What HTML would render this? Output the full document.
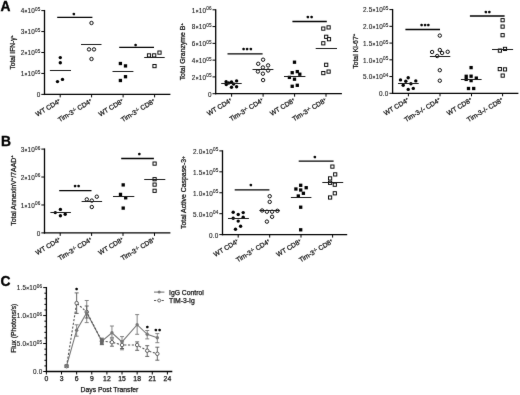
<!DOCTYPE html>
<html><head><meta charset="utf-8"><title>Figure</title>
<style>
html,body{margin:0;padding:0;background:#fff;}
body{width:520px;height:395px;overflow:hidden;}
svg{display:block;}
text.tl{stroke:#1a1a1a;stroke-width:0.12px;fill:#1a1a1a;letter-spacing:0.2px;}
text{font-family:"Liberation Sans",Arial,"DejaVu Sans",sans-serif;fill:#111;stroke:#111;stroke-width:0.25px;}
</style></head><body>
<svg width="520" height="395" viewBox="0 0 520 395">
<defs><filter id="bl" x="0" y="0" width="520" height="395" filterUnits="userSpaceOnUse" color-interpolation-filters="sRGB"><feConvolveMatrix order="3" kernelMatrix="0.01 0.05 0.01 0.05 0.76 0.05 0.01 0.05 0.01" divisor="1" edgeMode="duplicate"/></filter></defs>
<g filter="url(#bl)">
<rect width="520" height="395" fill="#fff"/>
<text x="0.5" y="11.0" font-size="13.8" font-weight="bold" style="fill:#000;stroke:#000;stroke-width:0.35px">A</text>
<text x="1.0" y="145.8" font-size="13.8" font-weight="bold" style="fill:#000;stroke:#000;stroke-width:0.35px">B</text>
<text x="0.6" y="286.4" font-size="13.8" font-weight="bold" style="fill:#000;stroke:#000;stroke-width:0.35px">C</text>
<line x1="44.5" y1="9.95" x2="44.5" y2="95.05" stroke="#000" stroke-width="1.3"/>
<line x1="41.3" y1="94.4" x2="44.5" y2="94.4" stroke="#000" stroke-width="1"/>
<text x="40.5" y="97.3" font-size="6.4" text-anchor="end" class="tl">0</text>
<line x1="41.3" y1="73.45" x2="44.5" y2="73.45" stroke="#000" stroke-width="1"/>
<text x="40.5" y="76.3" font-size="6.4" text-anchor="end" class="tl">1<tspan font-size="4.8" font-weight="bold">×</tspan>10<tspan font-size="4.61" dy="-2.4">05</tspan></text>
<line x1="41.3" y1="52.5" x2="44.5" y2="52.5" stroke="#000" stroke-width="1"/>
<text x="40.5" y="55.35" font-size="6.4" text-anchor="end" class="tl">2<tspan font-size="4.8" font-weight="bold">×</tspan>10<tspan font-size="4.61" dy="-2.4">05</tspan></text>
<line x1="41.3" y1="31.55" x2="44.5" y2="31.55" stroke="#000" stroke-width="1"/>
<text x="40.5" y="34.4" font-size="6.4" text-anchor="end" class="tl">3<tspan font-size="4.8" font-weight="bold">×</tspan>10<tspan font-size="4.61" dy="-2.4">05</tspan></text>
<line x1="41.3" y1="10.6" x2="44.5" y2="10.6" stroke="#000" stroke-width="1"/>
<text x="40.5" y="13.45" font-size="6.4" text-anchor="end" class="tl">4<tspan font-size="4.8" font-weight="bold">×</tspan>10<tspan font-size="4.61" dy="-2.4">05</tspan></text>
<line x1="43.85" y1="94.4" x2="170.4" y2="94.4" stroke="#000" stroke-width="1.3"/>
<line x1="60.2" y1="94.4" x2="60.2" y2="97.4" stroke="#000" stroke-width="1"/>
<line x1="91.6" y1="94.4" x2="91.6" y2="97.4" stroke="#000" stroke-width="1"/>
<line x1="123.1" y1="94.4" x2="123.1" y2="97.4" stroke="#000" stroke-width="1"/>
<line x1="154.6" y1="94.4" x2="154.6" y2="97.4" stroke="#000" stroke-width="1"/>
<text transform="translate(61.2 102.4) rotate(-31)" font-size="6.7" text-anchor="end">WT CD4<tspan font-size="4.15" dy="-2">+</tspan><tspan dy="2">​</tspan></text>
<text transform="translate(92.6 102.4) rotate(-31)" font-size="6.7" text-anchor="end">Tim-3<tspan font-size="4.15" dy="-2">-/-</tspan><tspan dy="2">​</tspan> CD4<tspan font-size="4.15" dy="-2">+</tspan><tspan dy="2">​</tspan></text>
<text transform="translate(124.1 102.4) rotate(-31)" font-size="6.7" text-anchor="end">WT CD8<tspan font-size="4.15" dy="-2">+</tspan><tspan dy="2">​</tspan></text>
<text transform="translate(155.6 102.4) rotate(-31)" font-size="6.7" text-anchor="end">Tim-3<tspan font-size="4.15" dy="-2">-/-</tspan><tspan dy="2">​</tspan> CD8<tspan font-size="4.15" dy="-2">+</tspan><tspan dy="2">​</tspan></text>
<text transform="translate(15.2 52.3) rotate(-90)" font-size="6.6" text-anchor="middle">Total IFN-γ<tspan font-size="4.09" dy="-2.6">+</tspan><tspan dy="2.6">​</tspan></text>
<line x1="57.2" y1="17.3" x2="92.4" y2="17.3" stroke="#000" stroke-width="1.3"/>
<text x="73.8" y="17.35" font-size="5.6" text-anchor="middle" font-weight="bold" style="fill:#000;stroke:#000;stroke-width:0.6px;stroke-linejoin:round">*</text>
<line x1="119.2" y1="47.3" x2="154" y2="47.3" stroke="#000" stroke-width="1.3"/>
<text x="135.6" y="47.55" font-size="5.6" text-anchor="middle" font-weight="bold" style="fill:#000;stroke:#000;stroke-width:0.6px;stroke-linejoin:round">*</text>
<circle cx="60.3" cy="57.6" r="1.7" fill="#000"/>
<circle cx="60.3" cy="62.7" r="1.7" fill="#000"/>
<circle cx="57.5" cy="81.6" r="1.7" fill="#000"/>
<circle cx="62.5" cy="79.4" r="1.7" fill="#000"/>
<circle cx="91.5" cy="23" r="1.7" fill="#fff" stroke="#000" stroke-width="0.95"/>
<circle cx="89" cy="49.4" r="1.7" fill="#fff" stroke="#000" stroke-width="0.95"/>
<circle cx="94" cy="49.4" r="1.7" fill="#fff" stroke="#000" stroke-width="0.95"/>
<circle cx="91.5" cy="59" r="1.7" fill="#fff" stroke="#000" stroke-width="0.95"/>
<rect x="118.75" y="61.85" width="3.3" height="3.3" fill="#000"/>
<rect x="123.85" y="64.25" width="3.3" height="3.3" fill="#000"/>
<rect x="123.85" y="75.05" width="3.3" height="3.3" fill="#000"/>
<rect x="118.75" y="78.85" width="3.3" height="3.3" fill="#000"/>
<rect x="147.4" y="53.8" width="3.2" height="3.2" fill="#fff" stroke="#000" stroke-width="0.95"/>
<rect x="152.6" y="53.8" width="3.2" height="3.2" fill="#fff" stroke="#000" stroke-width="0.95"/>
<rect x="157.9" y="51" width="3.2" height="3.2" fill="#fff" stroke="#000" stroke-width="0.95"/>
<rect x="152.9" y="64.5" width="3.2" height="3.2" fill="#fff" stroke="#000" stroke-width="0.95"/>
<line x1="49.9" y1="70.5" x2="71" y2="70.5" stroke="#1a1a1a" stroke-width="1.05"/>
<line x1="81" y1="44.5" x2="101.5" y2="44.5" stroke="#1a1a1a" stroke-width="1.05"/>
<line x1="112.5" y1="71.5" x2="133.4" y2="71.5" stroke="#1a1a1a" stroke-width="1.05"/>
<line x1="144.2" y1="57.5" x2="164.7" y2="57.5" stroke="#1a1a1a" stroke-width="1.05"/>
<line x1="215.7" y1="9.15" x2="215.7" y2="94.35" stroke="#000" stroke-width="1.3"/>
<line x1="212.5" y1="93.7" x2="215.7" y2="93.7" stroke="#000" stroke-width="1"/>
<text x="211.7" y="96.6" font-size="6.4" text-anchor="end" class="tl">0</text>
<line x1="212.5" y1="76.92" x2="215.7" y2="76.92" stroke="#000" stroke-width="1"/>
<text x="211.7" y="79.77" font-size="6.4" text-anchor="end" class="tl">2<tspan font-size="4.8" font-weight="bold">×</tspan>10<tspan font-size="4.61" dy="-2.4">05</tspan></text>
<line x1="212.5" y1="60.14" x2="215.7" y2="60.14" stroke="#000" stroke-width="1"/>
<text x="211.7" y="62.99" font-size="6.4" text-anchor="end" class="tl">4<tspan font-size="4.8" font-weight="bold">×</tspan>10<tspan font-size="4.61" dy="-2.4">05</tspan></text>
<line x1="212.5" y1="43.36" x2="215.7" y2="43.36" stroke="#000" stroke-width="1"/>
<text x="211.7" y="46.21" font-size="6.4" text-anchor="end" class="tl">6<tspan font-size="4.8" font-weight="bold">×</tspan>10<tspan font-size="4.61" dy="-2.4">05</tspan></text>
<line x1="212.5" y1="26.58" x2="215.7" y2="26.58" stroke="#000" stroke-width="1"/>
<text x="211.7" y="29.43" font-size="6.4" text-anchor="end" class="tl">8<tspan font-size="4.8" font-weight="bold">×</tspan>10<tspan font-size="4.61" dy="-2.4">05</tspan></text>
<line x1="212.5" y1="9.8" x2="215.7" y2="9.8" stroke="#000" stroke-width="1"/>
<text x="211.7" y="12.65" font-size="6.4" text-anchor="end" class="tl">1<tspan font-size="4.8" font-weight="bold">×</tspan>10<tspan font-size="4.61" dy="-2.4">06</tspan></text>
<line x1="215.05" y1="93.7" x2="341.9" y2="93.7" stroke="#000" stroke-width="1.3"/>
<line x1="231.6" y1="93.7" x2="231.6" y2="96.7" stroke="#000" stroke-width="1"/>
<line x1="263.1" y1="93.7" x2="263.1" y2="96.7" stroke="#000" stroke-width="1"/>
<line x1="294.6" y1="93.7" x2="294.6" y2="96.7" stroke="#000" stroke-width="1"/>
<line x1="326" y1="93.7" x2="326" y2="96.7" stroke="#000" stroke-width="1"/>
<text transform="translate(232.6 101.7) rotate(-31)" font-size="6.7" text-anchor="end">WT CD4<tspan font-size="4.15" dy="-2">+</tspan><tspan dy="2">​</tspan></text>
<text transform="translate(264.1 101.7) rotate(-31)" font-size="6.7" text-anchor="end">Tim-3<tspan font-size="4.15" dy="-2">-/-</tspan><tspan dy="2">​</tspan> CD4<tspan font-size="4.15" dy="-2">+</tspan><tspan dy="2">​</tspan></text>
<text transform="translate(295.6 101.7) rotate(-31)" font-size="6.7" text-anchor="end">WT CD8<tspan font-size="4.15" dy="-2">+</tspan><tspan dy="2">​</tspan></text>
<text transform="translate(327 101.7) rotate(-31)" font-size="6.7" text-anchor="end">Tim-3<tspan font-size="4.15" dy="-2">-/-</tspan><tspan dy="2">​</tspan> CD8<tspan font-size="4.15" dy="-2">+</tspan><tspan dy="2">​</tspan></text>
<text transform="translate(185.2 51.7) rotate(-90)" font-size="6.9" text-anchor="middle">Total Granzyme B<tspan font-size="4.28" dy="-2.6">+</tspan><tspan dy="2.6">​</tspan></text>
<line x1="227.5" y1="53.8" x2="262.6" y2="53.8" stroke="#000" stroke-width="1.3"/>
<text x="243.65" y="52.45" font-size="5.6" text-anchor="middle" font-weight="bold" style="fill:#000;stroke:#000;stroke-width:0.6px;stroke-linejoin:round">*</text>
<text x="247.2" y="52.45" font-size="5.6" text-anchor="middle" font-weight="bold" style="fill:#000;stroke:#000;stroke-width:0.6px;stroke-linejoin:round">*</text>
<text x="250.75" y="52.45" font-size="5.6" text-anchor="middle" font-weight="bold" style="fill:#000;stroke:#000;stroke-width:0.6px;stroke-linejoin:round">*</text>
<line x1="292.4" y1="21.5" x2="326.8" y2="21.5" stroke="#000" stroke-width="1.3"/>
<text x="307.8" y="20.05" font-size="5.6" text-anchor="middle" font-weight="bold" style="fill:#000;stroke:#000;stroke-width:0.6px;stroke-linejoin:round">*</text>
<text x="311.6" y="20.05" font-size="5.6" text-anchor="middle" font-weight="bold" style="fill:#000;stroke:#000;stroke-width:0.6px;stroke-linejoin:round">*</text>
<circle cx="226.1" cy="81.8" r="1.7" fill="#000"/>
<circle cx="226.3" cy="84.5" r="1.7" fill="#000"/>
<circle cx="228.7" cy="83" r="1.7" fill="#000"/>
<circle cx="231.5" cy="82" r="1.7" fill="#000"/>
<circle cx="233.6" cy="84" r="1.7" fill="#000"/>
<circle cx="231.5" cy="87.2" r="1.7" fill="#000"/>
<circle cx="236.6" cy="80.9" r="1.7" fill="#000"/>
<circle cx="236.6" cy="86.7" r="1.7" fill="#000"/>
<circle cx="263.1" cy="59.7" r="1.7" fill="#fff" stroke="#000" stroke-width="0.95"/>
<circle cx="258.2" cy="63.8" r="1.7" fill="#fff" stroke="#000" stroke-width="0.95"/>
<circle cx="268.1" cy="65.4" r="1.7" fill="#fff" stroke="#000" stroke-width="0.95"/>
<circle cx="262.9" cy="67.5" r="1.7" fill="#fff" stroke="#000" stroke-width="0.95"/>
<circle cx="257.9" cy="71.5" r="1.7" fill="#fff" stroke="#000" stroke-width="0.95"/>
<circle cx="268.1" cy="70.5" r="1.7" fill="#fff" stroke="#000" stroke-width="0.95"/>
<circle cx="262.9" cy="73.7" r="1.7" fill="#fff" stroke="#000" stroke-width="0.95"/>
<circle cx="263.1" cy="80.1" r="1.7" fill="#fff" stroke="#000" stroke-width="0.95"/>
<rect x="292.85" y="60.55" width="3.3" height="3.3" fill="#000"/>
<rect x="290.55" y="71.05" width="3.3" height="3.3" fill="#000"/>
<rect x="295.65" y="69.95" width="3.3" height="3.3" fill="#000"/>
<rect x="298.15" y="72.55" width="3.3" height="3.3" fill="#000"/>
<rect x="287.75" y="75.75" width="3.3" height="3.3" fill="#000"/>
<rect x="292.85" y="77.55" width="3.3" height="3.3" fill="#000"/>
<rect x="290.55" y="84.65" width="3.3" height="3.3" fill="#000"/>
<rect x="295.65" y="83.65" width="3.3" height="3.3" fill="#000"/>
<rect x="321.7" y="27" width="3.2" height="3.2" fill="#fff" stroke="#000" stroke-width="0.95"/>
<rect x="327" y="25.8" width="3.2" height="3.2" fill="#fff" stroke="#000" stroke-width="0.95"/>
<rect x="324.6" y="35.2" width="3.2" height="3.2" fill="#fff" stroke="#000" stroke-width="0.95"/>
<rect x="327.4" y="37.6" width="3.2" height="3.2" fill="#fff" stroke="#000" stroke-width="0.95"/>
<rect x="321.7" y="41.7" width="3.2" height="3.2" fill="#fff" stroke="#000" stroke-width="0.95"/>
<rect x="324.6" y="63.2" width="3.2" height="3.2" fill="#fff" stroke="#000" stroke-width="0.95"/>
<rect x="321.7" y="71.5" width="3.2" height="3.2" fill="#fff" stroke="#000" stroke-width="0.95"/>
<rect x="327" y="70" width="3.2" height="3.2" fill="#fff" stroke="#000" stroke-width="0.95"/>
<line x1="221.2" y1="83.5" x2="241.7" y2="83.5" stroke="#1a1a1a" stroke-width="1.05"/>
<line x1="252.5" y1="69.5" x2="273.4" y2="69.5" stroke="#1a1a1a" stroke-width="1.05"/>
<line x1="284" y1="76.5" x2="305.4" y2="76.5" stroke="#1a1a1a" stroke-width="1.05"/>
<line x1="315.7" y1="48.5" x2="337" y2="48.5" stroke="#1a1a1a" stroke-width="1.05"/>
<line x1="392.6" y1="8.95" x2="392.6" y2="93.95" stroke="#000" stroke-width="1.3"/>
<line x1="389.4" y1="93.3" x2="392.6" y2="93.3" stroke="#000" stroke-width="1"/>
<text x="388.6" y="96.2" font-size="6.4" text-anchor="end" class="tl">0.0</text>
<line x1="389.4" y1="76.56" x2="392.6" y2="76.56" stroke="#000" stroke-width="1"/>
<text x="388.6" y="79.41" font-size="6.4" text-anchor="end" class="tl">5.0<tspan font-size="4.8" font-weight="bold">×</tspan>10<tspan font-size="4.61" dy="-2.4">04</tspan></text>
<line x1="389.4" y1="59.82" x2="392.6" y2="59.82" stroke="#000" stroke-width="1"/>
<text x="388.6" y="62.67" font-size="6.4" text-anchor="end" class="tl">1.0<tspan font-size="4.8" font-weight="bold">×</tspan>10<tspan font-size="4.61" dy="-2.4">05</tspan></text>
<line x1="389.4" y1="43.08" x2="392.6" y2="43.08" stroke="#000" stroke-width="1"/>
<text x="388.6" y="45.93" font-size="6.4" text-anchor="end" class="tl">1.5<tspan font-size="4.8" font-weight="bold">×</tspan>10<tspan font-size="4.61" dy="-2.4">05</tspan></text>
<line x1="389.4" y1="26.34" x2="392.6" y2="26.34" stroke="#000" stroke-width="1"/>
<text x="388.6" y="29.19" font-size="6.4" text-anchor="end" class="tl">2.0<tspan font-size="4.8" font-weight="bold">×</tspan>10<tspan font-size="4.61" dy="-2.4">05</tspan></text>
<line x1="389.4" y1="9.6" x2="392.6" y2="9.6" stroke="#000" stroke-width="1"/>
<text x="388.6" y="12.45" font-size="6.4" text-anchor="end" class="tl">2.5<tspan font-size="4.8" font-weight="bold">×</tspan>10<tspan font-size="4.61" dy="-2.4">05</tspan></text>
<line x1="391.95" y1="93.3" x2="518.4" y2="93.3" stroke="#000" stroke-width="1.3"/>
<line x1="408.4" y1="93.3" x2="408.4" y2="96.3" stroke="#000" stroke-width="1"/>
<line x1="440" y1="93.3" x2="440" y2="96.3" stroke="#000" stroke-width="1"/>
<line x1="471.5" y1="93.3" x2="471.5" y2="96.3" stroke="#000" stroke-width="1"/>
<line x1="502.6" y1="93.3" x2="502.6" y2="96.3" stroke="#000" stroke-width="1"/>
<text transform="translate(409.4 101.3) rotate(-31)" font-size="6.7" text-anchor="end">WT CD4<tspan font-size="4.15" dy="-2">+</tspan><tspan dy="2">​</tspan></text>
<text transform="translate(441 101.3) rotate(-31)" font-size="6.7" text-anchor="end">Tim-3-/- CD4<tspan font-size="4.15" dy="-2">+</tspan><tspan dy="2">​</tspan></text>
<text transform="translate(472.5 101.3) rotate(-31)" font-size="6.7" text-anchor="end">WT CD8<tspan font-size="4.15" dy="-2">+</tspan><tspan dy="2">​</tspan></text>
<text transform="translate(503.6 101.3) rotate(-31)" font-size="6.7" text-anchor="end">Tim-3-/- CD8<tspan font-size="4.15" dy="-2">+</tspan><tspan dy="2">​</tspan></text>
<text transform="translate(357.6 51.3) rotate(-90)" font-size="6.9" text-anchor="middle">Total Ki-67<tspan font-size="4.28" dy="-2.6">+</tspan><tspan dy="2.6">​</tspan></text>
<line x1="405.4" y1="29.5" x2="440" y2="29.5" stroke="#000" stroke-width="1.3"/>
<text x="421.6" y="28.15" font-size="5.6" text-anchor="middle" font-weight="bold" style="fill:#000;stroke:#000;stroke-width:0.6px;stroke-linejoin:round">*</text>
<text x="425" y="28.15" font-size="5.6" text-anchor="middle" font-weight="bold" style="fill:#000;stroke:#000;stroke-width:0.6px;stroke-linejoin:round">*</text>
<text x="428.4" y="28.15" font-size="5.6" text-anchor="middle" font-weight="bold" style="fill:#000;stroke:#000;stroke-width:0.6px;stroke-linejoin:round">*</text>
<line x1="469.9" y1="16" x2="504.6" y2="16" stroke="#000" stroke-width="1.3"/>
<text x="485.8" y="14.55" font-size="5.6" text-anchor="middle" font-weight="bold" style="fill:#000;stroke:#000;stroke-width:0.6px;stroke-linejoin:round">*</text>
<text x="489.4" y="14.55" font-size="5.6" text-anchor="middle" font-weight="bold" style="fill:#000;stroke:#000;stroke-width:0.6px;stroke-linejoin:round">*</text>
<circle cx="400.5" cy="79.9" r="1.7" fill="#000"/>
<circle cx="408.2" cy="77.7" r="1.7" fill="#000"/>
<circle cx="405.8" cy="81.3" r="1.7" fill="#000"/>
<circle cx="415.8" cy="80.9" r="1.7" fill="#000"/>
<circle cx="403.2" cy="85.2" r="1.7" fill="#000"/>
<circle cx="410.9" cy="83.8" r="1.7" fill="#000"/>
<circle cx="413.3" cy="88.4" r="1.7" fill="#000"/>
<circle cx="408.2" cy="89.4" r="1.7" fill="#000"/>
<circle cx="439.8" cy="35.6" r="1.7" fill="#fff" stroke="#000" stroke-width="0.95"/>
<circle cx="432.1" cy="52" r="1.7" fill="#fff" stroke="#000" stroke-width="0.95"/>
<circle cx="439.8" cy="50" r="1.7" fill="#fff" stroke="#000" stroke-width="0.95"/>
<circle cx="442.1" cy="53" r="1.7" fill="#fff" stroke="#000" stroke-width="0.95"/>
<circle cx="447.7" cy="51.8" r="1.7" fill="#fff" stroke="#000" stroke-width="0.95"/>
<circle cx="437.2" cy="56" r="1.7" fill="#fff" stroke="#000" stroke-width="0.95"/>
<circle cx="439.8" cy="70.2" r="1.7" fill="#fff" stroke="#000" stroke-width="0.95"/>
<circle cx="439.8" cy="80.7" r="1.7" fill="#fff" stroke="#000" stroke-width="0.95"/>
<rect x="469.45" y="65.95" width="3.3" height="3.3" fill="#000"/>
<rect x="464.55" y="74.65" width="3.3" height="3.3" fill="#000"/>
<rect x="469.45" y="74.55" width="3.3" height="3.3" fill="#000"/>
<rect x="474.65" y="76.45" width="3.3" height="3.3" fill="#000"/>
<rect x="464.55" y="77.75" width="3.3" height="3.3" fill="#000"/>
<rect x="469.45" y="78.95" width="3.3" height="3.3" fill="#000"/>
<rect x="466.85" y="86.85" width="3.3" height="3.3" fill="#000"/>
<rect x="472.05" y="86.85" width="3.3" height="3.3" fill="#000"/>
<rect x="501" y="18.6" width="3.2" height="3.2" fill="#fff" stroke="#000" stroke-width="0.95"/>
<rect x="501" y="25" width="3.2" height="3.2" fill="#fff" stroke="#000" stroke-width="0.95"/>
<rect x="501" y="33.6" width="3.2" height="3.2" fill="#fff" stroke="#000" stroke-width="0.95"/>
<rect x="498.3" y="49" width="3.2" height="3.2" fill="#fff" stroke="#000" stroke-width="0.95"/>
<rect x="503.4" y="47.3" width="3.2" height="3.2" fill="#fff" stroke="#000" stroke-width="0.95"/>
<rect x="498.2" y="67.5" width="3.2" height="3.2" fill="#fff" stroke="#000" stroke-width="0.95"/>
<rect x="503.4" y="67.8" width="3.2" height="3.2" fill="#fff" stroke="#000" stroke-width="0.95"/>
<rect x="501.1" y="74" width="3.2" height="3.2" fill="#fff" stroke="#000" stroke-width="0.95"/>
<line x1="398" y1="83.5" x2="418.7" y2="83.5" stroke="#1a1a1a" stroke-width="1.05"/>
<line x1="429.9" y1="56.5" x2="450.3" y2="56.5" stroke="#1a1a1a" stroke-width="1.05"/>
<line x1="460.9" y1="79.5" x2="481.6" y2="79.5" stroke="#1a1a1a" stroke-width="1.05"/>
<line x1="492" y1="49.5" x2="513.1" y2="49.5" stroke="#1a1a1a" stroke-width="1.05"/>
<line x1="44.5" y1="148.45" x2="44.5" y2="233.55" stroke="#000" stroke-width="1.3"/>
<line x1="41.3" y1="232.9" x2="44.5" y2="232.9" stroke="#000" stroke-width="1"/>
<text x="40.5" y="235.8" font-size="6.4" text-anchor="end" class="tl">0</text>
<line x1="41.3" y1="204.97" x2="44.5" y2="204.97" stroke="#000" stroke-width="1"/>
<text x="40.5" y="207.82" font-size="6.4" text-anchor="end" class="tl">1<tspan font-size="4.8" font-weight="bold">×</tspan>10<tspan font-size="4.61" dy="-2.4">06</tspan></text>
<line x1="41.3" y1="177.03" x2="44.5" y2="177.03" stroke="#000" stroke-width="1"/>
<text x="40.5" y="179.89" font-size="6.4" text-anchor="end" class="tl">2<tspan font-size="4.8" font-weight="bold">×</tspan>10<tspan font-size="4.61" dy="-2.4">06</tspan></text>
<line x1="41.3" y1="149.1" x2="44.5" y2="149.1" stroke="#000" stroke-width="1"/>
<text x="40.5" y="151.95" font-size="6.4" text-anchor="end" class="tl">3<tspan font-size="4.8" font-weight="bold">×</tspan>10<tspan font-size="4.61" dy="-2.4">06</tspan></text>
<line x1="43.85" y1="232.9" x2="170.4" y2="232.9" stroke="#000" stroke-width="1.3"/>
<line x1="60.2" y1="232.9" x2="60.2" y2="235.9" stroke="#000" stroke-width="1"/>
<line x1="91.6" y1="232.9" x2="91.6" y2="235.9" stroke="#000" stroke-width="1"/>
<line x1="123" y1="232.9" x2="123" y2="235.9" stroke="#000" stroke-width="1"/>
<line x1="154.5" y1="232.9" x2="154.5" y2="235.9" stroke="#000" stroke-width="1"/>
<text transform="translate(61.2 240.9) rotate(-31)" font-size="6.7" text-anchor="end">WT CD4<tspan font-size="4.15" dy="-2">+</tspan><tspan dy="2">​</tspan></text>
<text transform="translate(92.6 240.9) rotate(-31)" font-size="6.7" text-anchor="end">Tim-3<tspan font-size="4.15" dy="-2">-/-</tspan><tspan dy="2">​</tspan> CD4<tspan font-size="4.15" dy="-2">+</tspan><tspan dy="2">​</tspan></text>
<text transform="translate(124 240.9) rotate(-31)" font-size="6.7" text-anchor="end">WT CD8<tspan font-size="4.15" dy="-2">+</tspan><tspan dy="2">​</tspan></text>
<text transform="translate(155.5 240.9) rotate(-31)" font-size="6.7" text-anchor="end">Tim-3<tspan font-size="4.15" dy="-2">-/-</tspan><tspan dy="2">​</tspan> CD8<tspan font-size="4.15" dy="-2">+</tspan><tspan dy="2">​</tspan></text>
<text transform="translate(15.6 190.5) rotate(-90)" font-size="6.9" text-anchor="middle">Total AnnexinV<tspan font-size="4.28" dy="-2.6">+</tspan><tspan dy="2.6">​</tspan>/7AAD<tspan font-size="4.28" dy="-2.6">+</tspan><tspan dy="2.6">​</tspan></text>
<line x1="59.2" y1="190.7" x2="91.5" y2="190.7" stroke="#000" stroke-width="1.3"/>
<text x="75" y="189.35" font-size="5.6" text-anchor="middle" font-weight="bold" style="fill:#000;stroke:#000;stroke-width:0.6px;stroke-linejoin:round">*</text>
<text x="78.6" y="189.35" font-size="5.6" text-anchor="middle" font-weight="bold" style="fill:#000;stroke:#000;stroke-width:0.6px;stroke-linejoin:round">*</text>
<line x1="121.2" y1="158.5" x2="153.9" y2="158.5" stroke="#000" stroke-width="1.3"/>
<text x="139.4" y="157.35" font-size="5.6" text-anchor="middle" font-weight="bold" style="fill:#000;stroke:#000;stroke-width:0.6px;stroke-linejoin:round">*</text>
<circle cx="55.3" cy="212.6" r="1.7" fill="#000"/>
<circle cx="60.4" cy="209.4" r="1.7" fill="#000"/>
<circle cx="65.2" cy="214.2" r="1.7" fill="#000"/>
<circle cx="60.4" cy="215.8" r="1.7" fill="#000"/>
<circle cx="86.8" cy="199.4" r="1.7" fill="#fff" stroke="#000" stroke-width="0.95"/>
<circle cx="91.8" cy="200.6" r="1.7" fill="#fff" stroke="#000" stroke-width="0.95"/>
<circle cx="96.8" cy="196.7" r="1.7" fill="#fff" stroke="#000" stroke-width="0.95"/>
<circle cx="91.8" cy="207" r="1.7" fill="#fff" stroke="#000" stroke-width="0.95"/>
<rect x="121.55" y="183.25" width="3.3" height="3.3" fill="#000"/>
<rect x="118.85" y="192.75" width="3.3" height="3.3" fill="#000"/>
<rect x="124.05" y="196.15" width="3.3" height="3.3" fill="#000"/>
<rect x="121.55" y="206.45" width="3.3" height="3.3" fill="#000"/>
<rect x="153" y="162" width="3.2" height="3.2" fill="#fff" stroke="#000" stroke-width="0.95"/>
<rect x="153" y="177.6" width="3.2" height="3.2" fill="#fff" stroke="#000" stroke-width="0.95"/>
<rect x="153" y="183" width="3.2" height="3.2" fill="#fff" stroke="#000" stroke-width="0.95"/>
<rect x="153" y="189.2" width="3.2" height="3.2" fill="#fff" stroke="#000" stroke-width="0.95"/>
<line x1="50.4" y1="212.5" x2="70.9" y2="212.5" stroke="#1a1a1a" stroke-width="1.05"/>
<line x1="81.6" y1="201.5" x2="102.1" y2="201.5" stroke="#1a1a1a" stroke-width="1.05"/>
<line x1="113" y1="196.5" x2="134.3" y2="196.5" stroke="#1a1a1a" stroke-width="1.05"/>
<line x1="144.2" y1="179.5" x2="165.3" y2="179.5" stroke="#1a1a1a" stroke-width="1.05"/>
<line x1="222.5" y1="150.25" x2="222.5" y2="235.25" stroke="#000" stroke-width="1.3"/>
<line x1="219.3" y1="234.6" x2="222.5" y2="234.6" stroke="#000" stroke-width="1"/>
<text x="218.5" y="237.5" font-size="6.4" text-anchor="end" class="tl">0.0</text>
<line x1="219.3" y1="213.68" x2="222.5" y2="213.68" stroke="#000" stroke-width="1"/>
<text x="218.5" y="216.53" font-size="6.4" text-anchor="end" class="tl">5.0<tspan font-size="4.8" font-weight="bold">×</tspan>10<tspan font-size="4.61" dy="-2.4">04</tspan></text>
<line x1="219.3" y1="192.75" x2="222.5" y2="192.75" stroke="#000" stroke-width="1"/>
<text x="218.5" y="195.6" font-size="6.4" text-anchor="end" class="tl">1.0<tspan font-size="4.8" font-weight="bold">×</tspan>10<tspan font-size="4.61" dy="-2.4">05</tspan></text>
<line x1="219.3" y1="171.82" x2="222.5" y2="171.82" stroke="#000" stroke-width="1"/>
<text x="218.5" y="174.68" font-size="6.4" text-anchor="end" class="tl">1.5<tspan font-size="4.8" font-weight="bold">×</tspan>10<tspan font-size="4.61" dy="-2.4">05</tspan></text>
<line x1="219.3" y1="150.9" x2="222.5" y2="150.9" stroke="#000" stroke-width="1"/>
<text x="218.5" y="153.75" font-size="6.4" text-anchor="end" class="tl">2.0<tspan font-size="4.8" font-weight="bold">×</tspan>10<tspan font-size="4.61" dy="-2.4">05</tspan></text>
<line x1="221.85" y1="234.6" x2="347.2" y2="234.6" stroke="#000" stroke-width="1.3"/>
<line x1="238.2" y1="234.6" x2="238.2" y2="237.6" stroke="#000" stroke-width="1"/>
<line x1="269.7" y1="234.6" x2="269.7" y2="237.6" stroke="#000" stroke-width="1"/>
<line x1="301" y1="234.6" x2="301" y2="237.6" stroke="#000" stroke-width="1"/>
<line x1="332.6" y1="234.6" x2="332.6" y2="237.6" stroke="#000" stroke-width="1"/>
<text transform="translate(239.2 242.6) rotate(-31)" font-size="6.7" text-anchor="end">WT CD4<tspan font-size="4.15" dy="-2">+</tspan><tspan dy="2">​</tspan></text>
<text transform="translate(270.7 242.6) rotate(-31)" font-size="6.7" text-anchor="end">Tim-3<tspan font-size="4.15" dy="-2">-/-</tspan><tspan dy="2">​</tspan> CD4<tspan font-size="4.15" dy="-2">+</tspan><tspan dy="2">​</tspan></text>
<text transform="translate(302 242.6) rotate(-31)" font-size="6.7" text-anchor="end">WT CD8<tspan font-size="4.15" dy="-2">+</tspan><tspan dy="2">​</tspan></text>
<text transform="translate(333.6 242.6) rotate(-31)" font-size="6.7" text-anchor="end">Tim-3<tspan font-size="4.15" dy="-2">-/-</tspan><tspan dy="2">​</tspan> CD8<tspan font-size="4.15" dy="-2">+</tspan><tspan dy="2">​</tspan></text>
<text transform="translate(186 192.6) rotate(-90)" font-size="6.9" text-anchor="middle">Total Active Caspase-3<tspan font-size="4.83" dy="-0.8">+</tspan></text>
<line x1="234.7" y1="189.9" x2="269.4" y2="189.9" stroke="#000" stroke-width="1.3"/>
<text x="250.8" y="188.35" font-size="5.6" text-anchor="middle" font-weight="bold" style="fill:#000;stroke:#000;stroke-width:0.6px;stroke-linejoin:round">*</text>
<line x1="298.7" y1="161.1" x2="333.6" y2="161.1" stroke="#000" stroke-width="1.3"/>
<text x="314.8" y="159.75" font-size="5.6" text-anchor="middle" font-weight="bold" style="fill:#000;stroke:#000;stroke-width:0.6px;stroke-linejoin:round">*</text>
<circle cx="233.2" cy="212.2" r="1.7" fill="#000"/>
<circle cx="238.2" cy="214.5" r="1.7" fill="#000"/>
<circle cx="243.2" cy="212.6" r="1.7" fill="#000"/>
<circle cx="233.2" cy="218.3" r="1.7" fill="#000"/>
<circle cx="243.2" cy="217.2" r="1.7" fill="#000"/>
<circle cx="238.2" cy="221.1" r="1.7" fill="#000"/>
<circle cx="240.6" cy="226.2" r="1.7" fill="#000"/>
<circle cx="235.5" cy="229.3" r="1.7" fill="#000"/>
<circle cx="269.7" cy="196.2" r="1.7" fill="#fff" stroke="#000" stroke-width="0.95"/>
<circle cx="269.7" cy="201.9" r="1.7" fill="#fff" stroke="#000" stroke-width="0.95"/>
<circle cx="262.1" cy="210.5" r="1.7" fill="#fff" stroke="#000" stroke-width="0.95"/>
<circle cx="266.9" cy="211.7" r="1.7" fill="#fff" stroke="#000" stroke-width="0.95"/>
<circle cx="272.1" cy="211.7" r="1.7" fill="#fff" stroke="#000" stroke-width="0.95"/>
<circle cx="277.4" cy="210.8" r="1.7" fill="#fff" stroke="#000" stroke-width="0.95"/>
<circle cx="272.1" cy="216.8" r="1.7" fill="#fff" stroke="#000" stroke-width="0.95"/>
<circle cx="266.9" cy="221.6" r="1.7" fill="#fff" stroke="#000" stroke-width="0.95"/>
<rect x="299.05" y="183.65" width="3.3" height="3.3" fill="#000"/>
<rect x="294.25" y="187.35" width="3.3" height="3.3" fill="#000"/>
<rect x="304.55" y="186.05" width="3.3" height="3.3" fill="#000"/>
<rect x="299.05" y="188.35" width="3.3" height="3.3" fill="#000"/>
<rect x="301.75" y="191.65" width="3.3" height="3.3" fill="#000"/>
<rect x="296.65" y="194.35" width="3.3" height="3.3" fill="#000"/>
<rect x="299.05" y="205.55" width="3.3" height="3.3" fill="#000"/>
<rect x="299.05" y="228.15" width="3.3" height="3.3" fill="#000"/>
<rect x="330.8" y="165" width="3.2" height="3.2" fill="#fff" stroke="#000" stroke-width="0.95"/>
<rect x="333.6" y="172.8" width="3.2" height="3.2" fill="#fff" stroke="#000" stroke-width="0.95"/>
<rect x="328.5" y="176.8" width="3.2" height="3.2" fill="#fff" stroke="#000" stroke-width="0.95"/>
<rect x="328.5" y="181.2" width="3.2" height="3.2" fill="#fff" stroke="#000" stroke-width="0.95"/>
<rect x="333.2" y="183.1" width="3.2" height="3.2" fill="#fff" stroke="#000" stroke-width="0.95"/>
<rect x="333.2" y="191.7" width="3.2" height="3.2" fill="#fff" stroke="#000" stroke-width="0.95"/>
<rect x="328.5" y="195.9" width="3.2" height="3.2" fill="#fff" stroke="#000" stroke-width="0.95"/>
<line x1="228" y1="218.5" x2="248.9" y2="218.5" stroke="#1a1a1a" stroke-width="1.05"/>
<line x1="259.4" y1="210.5" x2="279.8" y2="210.5" stroke="#1a1a1a" stroke-width="1.05"/>
<line x1="290.9" y1="197.5" x2="311.4" y2="197.5" stroke="#1a1a1a" stroke-width="1.05"/>
<line x1="322.3" y1="182.5" x2="343.2" y2="182.5" stroke="#1a1a1a" stroke-width="1.05"/>
<line x1="46.4" y1="286.95" x2="46.4" y2="372.15" stroke="#000" stroke-width="1.3"/>
<line x1="43.2" y1="371.5" x2="46.4" y2="371.5" stroke="#000" stroke-width="1"/>
<text x="42.4" y="374.4" font-size="6.4" text-anchor="end" class="tl">0.0</text>
<line x1="43.2" y1="343.53" x2="46.4" y2="343.53" stroke="#000" stroke-width="1"/>
<text x="42.4" y="346.39" font-size="6.4" text-anchor="end" class="tl">5.0<tspan font-size="4.8" font-weight="bold">×</tspan>10<tspan font-size="4.61" dy="-2.4">05</tspan></text>
<line x1="43.2" y1="315.57" x2="46.4" y2="315.57" stroke="#000" stroke-width="1"/>
<text x="42.4" y="318.42" font-size="6.4" text-anchor="end" class="tl">1.0<tspan font-size="4.8" font-weight="bold">×</tspan>10<tspan font-size="4.61" dy="-2.4">06</tspan></text>
<line x1="43.2" y1="287.6" x2="46.4" y2="287.6" stroke="#000" stroke-width="1"/>
<text x="42.4" y="290.45" font-size="6.4" text-anchor="end" class="tl">1.5<tspan font-size="4.8" font-weight="bold">×</tspan>10<tspan font-size="4.61" dy="-2.4">06</tspan></text>
<line x1="44.4" y1="365.91" x2="46.4" y2="365.91" stroke="#000" stroke-width="1"/>
<line x1="44.4" y1="360.31" x2="46.4" y2="360.31" stroke="#000" stroke-width="1"/>
<line x1="44.4" y1="354.72" x2="46.4" y2="354.72" stroke="#000" stroke-width="1"/>
<line x1="44.4" y1="349.13" x2="46.4" y2="349.13" stroke="#000" stroke-width="1"/>
<line x1="44.4" y1="337.94" x2="46.4" y2="337.94" stroke="#000" stroke-width="1"/>
<line x1="44.4" y1="332.35" x2="46.4" y2="332.35" stroke="#000" stroke-width="1"/>
<line x1="44.4" y1="326.75" x2="46.4" y2="326.75" stroke="#000" stroke-width="1"/>
<line x1="44.4" y1="321.16" x2="46.4" y2="321.16" stroke="#000" stroke-width="1"/>
<line x1="44.4" y1="309.97" x2="46.4" y2="309.97" stroke="#000" stroke-width="1"/>
<line x1="44.4" y1="304.38" x2="46.4" y2="304.38" stroke="#000" stroke-width="1"/>
<line x1="44.4" y1="298.79" x2="46.4" y2="298.79" stroke="#000" stroke-width="1"/>
<line x1="44.4" y1="293.19" x2="46.4" y2="293.19" stroke="#000" stroke-width="1"/>
<line x1="45.75" y1="371.5" x2="172.3" y2="371.5" stroke="#000" stroke-width="1.3"/>
<line x1="46.4" y1="371.5" x2="46.4" y2="374.5" stroke="#000" stroke-width="1"/>
<line x1="61.52" y1="371.5" x2="61.52" y2="374.5" stroke="#000" stroke-width="1"/>
<line x1="76.65" y1="371.5" x2="76.65" y2="374.5" stroke="#000" stroke-width="1"/>
<line x1="91.78" y1="371.5" x2="91.78" y2="374.5" stroke="#000" stroke-width="1"/>
<line x1="106.9" y1="371.5" x2="106.9" y2="374.5" stroke="#000" stroke-width="1"/>
<line x1="122.03" y1="371.5" x2="122.03" y2="374.5" stroke="#000" stroke-width="1"/>
<line x1="137.15" y1="371.5" x2="137.15" y2="374.5" stroke="#000" stroke-width="1"/>
<line x1="152.28" y1="371.5" x2="152.28" y2="374.5" stroke="#000" stroke-width="1"/>
<line x1="167.4" y1="371.5" x2="167.4" y2="374.5" stroke="#000" stroke-width="1"/>
<text x="46.4" y="381" font-size="6.8" text-anchor="middle">0</text>
<text x="61.52" y="381" font-size="6.8" text-anchor="middle">3</text>
<text x="76.65" y="381" font-size="6.8" text-anchor="middle">6</text>
<text x="91.78" y="381" font-size="6.8" text-anchor="middle">9</text>
<text x="106.9" y="381" font-size="6.8" text-anchor="middle">12</text>
<text x="122.03" y="381" font-size="6.8" text-anchor="middle">15</text>
<text x="137.15" y="381" font-size="6.8" text-anchor="middle">18</text>
<text x="152.28" y="381" font-size="6.8" text-anchor="middle">21</text>
<text x="167.4" y="381" font-size="6.8" text-anchor="middle">24</text>
<text x="109.5" y="391.9" font-size="6.8" text-anchor="middle">Days Post Transfer</text>
<text transform="translate(16 328.2) rotate(-90)" font-size="6.75" text-anchor="middle">Flux (Photons/s)</text>
<path d="M66.57 365V367M64.57 365H68.57M64.57 367H68.57" stroke="#777" stroke-width="0.9" fill="none"/>
<path d="M76.65 324.8V336.2M74.65 324.8H78.65M74.65 336.2H78.65" stroke="#777" stroke-width="0.9" fill="none"/>
<path d="M86.73 300.5V322.6M84.73 300.5H88.73M84.73 322.6H88.73" stroke="#777" stroke-width="0.9" fill="none"/>
<path d="M101.86 338.1V344.7M99.86 338.1H103.86M99.86 344.7H103.86" stroke="#777" stroke-width="0.9" fill="none"/>
<path d="M111.94 326V337.4M109.94 326H113.94M109.94 337.4H113.94" stroke="#777" stroke-width="0.9" fill="none"/>
<path d="M122.03 336.6V349.8M120.03 336.6H124.03M120.03 349.8H124.03" stroke="#777" stroke-width="0.9" fill="none"/>
<path d="M137.15 314.6V334.3M135.15 314.6H139.15M135.15 334.3H139.15" stroke="#777" stroke-width="0.9" fill="none"/>
<path d="M147.23 330.5V338.9M145.23 330.5H149.23M145.23 338.9H149.23" stroke="#777" stroke-width="0.9" fill="none"/>
<path d="M157.32 333.6V342.7M155.32 333.6H159.32M155.32 342.7H159.32" stroke="#777" stroke-width="0.9" fill="none"/>
<path d="M66.57 365V367.5M64.57 365H68.57M64.57 367.5H68.57" stroke="#555" stroke-width="0.9" fill="none"/>
<path d="M76.65 292.9V313.4M74.65 292.9H78.65M74.65 313.4H78.65" stroke="#555" stroke-width="0.9" fill="none"/>
<path d="M86.73 306V318M84.73 306H88.73M84.73 318H88.73" stroke="#555" stroke-width="0.9" fill="none"/>
<path d="M101.86 339V344M99.86 339H103.86M99.86 344H103.86" stroke="#555" stroke-width="0.9" fill="none"/>
<path d="M111.94 338.9V346.2M109.94 338.9H113.94M109.94 346.2H113.94" stroke="#555" stroke-width="0.9" fill="none"/>
<path d="M122.03 341V348.5M120.03 341H124.03M120.03 348.5H124.03" stroke="#555" stroke-width="0.9" fill="none"/>
<path d="M137.15 341.9V350.3M135.15 341.9H139.15M135.15 350.3H139.15" stroke="#555" stroke-width="0.9" fill="none"/>
<path d="M147.23 345.7V356.4M145.23 345.7H149.23M145.23 356.4H149.23" stroke="#555" stroke-width="0.9" fill="none"/>
<path d="M157.32 347.2V360.2M155.32 347.2H159.32M155.32 360.2H159.32" stroke="#555" stroke-width="0.9" fill="none"/>
<polyline points="66.57,365.9 76.65,330.2 86.73,312.7 101.86,341.2 111.94,332.8 122.03,341.9 137.15,324.7 147.23,334.3 157.32,337.8" fill="none" stroke="#777" stroke-width="1.1"/>
<polyline points="66.57,366.2 76.65,303.1 86.73,312 101.86,341.2 111.94,342.2 122.03,345 137.15,345 147.23,350.7 157.32,353.8" fill="none" stroke="#555" stroke-width="1.1" stroke-dasharray="2.2 1.6"/>
<circle cx="66.57" cy="366.2" r="1.75" fill="#fff" stroke="#555" stroke-width="0.95"/>
<circle cx="76.65" cy="303.1" r="1.75" fill="#fff" stroke="#555" stroke-width="0.95"/>
<circle cx="86.73" cy="312" r="1.75" fill="#fff" stroke="#555" stroke-width="0.95"/>
<circle cx="101.86" cy="341.2" r="1.75" fill="#fff" stroke="#555" stroke-width="0.95"/>
<circle cx="111.94" cy="342.2" r="1.75" fill="#fff" stroke="#555" stroke-width="0.95"/>
<circle cx="122.03" cy="345" r="1.75" fill="#fff" stroke="#555" stroke-width="0.95"/>
<circle cx="137.15" cy="345" r="1.75" fill="#fff" stroke="#555" stroke-width="0.95"/>
<circle cx="147.23" cy="350.7" r="1.75" fill="#fff" stroke="#555" stroke-width="0.95"/>
<circle cx="157.32" cy="353.8" r="1.75" fill="#fff" stroke="#555" stroke-width="0.95"/>
<circle cx="66.57" cy="365.9" r="1.7" fill="#777"/>
<circle cx="76.65" cy="330.2" r="1.7" fill="#777"/>
<circle cx="86.73" cy="312.7" r="1.7" fill="#777"/>
<circle cx="101.86" cy="341.2" r="1.7" fill="#777"/>
<circle cx="111.94" cy="332.8" r="1.7" fill="#777"/>
<circle cx="122.03" cy="341.9" r="1.7" fill="#777"/>
<circle cx="137.15" cy="324.7" r="1.7" fill="#777"/>
<circle cx="147.23" cy="334.3" r="1.7" fill="#777"/>
<circle cx="157.32" cy="337.8" r="1.7" fill="#777"/>
<rect x="100" y="338.6" width="3.4" height="6.4" fill="#666"/>
<text x="76.5" y="292.15" font-size="5.6" text-anchor="middle" font-weight="bold" style="fill:#000;stroke:#000;stroke-width:0.6px;stroke-linejoin:round">*</text>
<text x="147.4" y="330" font-size="5.6" text-anchor="middle" font-weight="bold" style="fill:#000;stroke:#000;stroke-width:0.6px;stroke-linejoin:round">*</text>
<text x="155.9" y="332.75" font-size="5.6" text-anchor="middle" font-weight="bold" style="fill:#000;stroke:#000;stroke-width:0.6px;stroke-linejoin:round">*</text>
<text x="159.5" y="332.75" font-size="5.6" text-anchor="middle" font-weight="bold" style="fill:#000;stroke:#000;stroke-width:0.6px;stroke-linejoin:round">*</text>
<line x1="154" y1="292.1" x2="164.4" y2="292.1" stroke="#777" stroke-width="1.1"/>
<circle cx="159.2" cy="292.1" r="1.5" fill="#777"/>
<line x1="154" y1="300.5" x2="164.4" y2="300.5" stroke="#555" stroke-width="1.1" stroke-dasharray="2.2 1.6"/>
<circle cx="159.2" cy="300.5" r="1.5" fill="#fff" stroke="#555" stroke-width="0.9"/>
<text x="169" y="294.5" font-size="6.8">IgG Control</text>
<text x="169" y="302.9" font-size="6.8">TIM-3-Ig</text>
</g>
</svg>
</body></html>
